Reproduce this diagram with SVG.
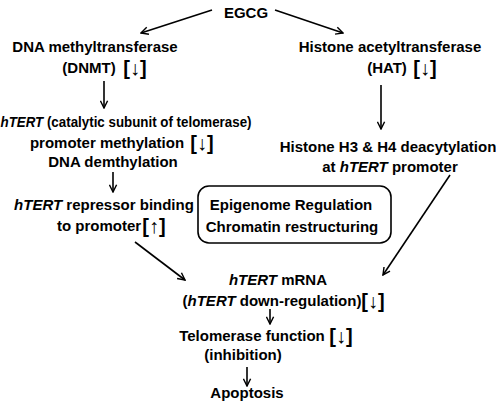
<svg xmlns="http://www.w3.org/2000/svg" width="496" height="403" viewBox="0 0 496 403">
<defs>
<marker id="ah" viewBox="0 0 10 10" refX="9" refY="5" markerWidth="9" markerHeight="9" markerUnits="userSpaceOnUse" orient="auto">
<path d="M1,1 L9,5 L1,9" fill="none" stroke="#000" stroke-width="1.6"/>
</marker>
<style>
text{font-family:"Liberation Sans","DejaVu Sans",Arial,sans-serif;font-weight:bold;font-size:15px;fill:#000;text-anchor:middle}
.i{font-style:italic}
.b{font-weight:bold;font-size:20px}
.a{font-weight:normal}
.c{stroke:#000;stroke-width:1.6;fill:none;marker-end:url(#ah)}
</style>
</defs>
<rect width="496" height="403" fill="#fff"/>
<g id="egcg"><text x="246" y="18">EGCG</text></g>
<g id="dnmt"><text x="95" y="52">DNA methyltransferase</text><text x="89" y="73">(DNMT)</text><text x="135" y="75" class="b">[<tspan class="a">↓</tspan>]</text></g>
<g id="hat"><text x="390" y="52">Histone acetyltransferase</text><text x="387" y="73">(HAT)</text><text x="425" y="75" class="b">[<tspan class="a">↓</tspan>]</text></g>
<g id="htert-meth"><text transform="translate(126,127) scale(0.89,1)"><tspan class="i">hTERT</tspan> (catalytic subunit of telomerase)</text><text x="107" y="148">promoter methylation</text><text x="202" y="150" class="b">[<tspan class="a">↓</tspan>]</text><text x="113" y="167">DNA demthylation</text></g>
<g id="repressor"><text x="104" y="210"><tspan class="i">hTERT</tspan> repressor binding</text><text x="99" y="231">to promoter</text><text x="154" y="233" class="b">[<tspan class="a">↑</tspan>]</text></g>
<g id="epigenome"><rect x="198" y="186" width="193" height="57" rx="11" fill="none" stroke="#000" stroke-width="1.6"/><text x="291" y="210">Epigenome Regulation</text><text x="292" y="232">Chromatin restructuring</text></g>
<g id="deacetyl"><text x="388" y="152">Histone H3 &amp; H4 deacytylation</text><text x="390" y="172">at <tspan class="i">hTERT</tspan> promoter</text></g>
<g id="mrna"><text x="278" y="285"><tspan class="i">hTERT</tspan> mRNA</text><text x="272" y="306">(<tspan class="i">hTERT</tspan> down-regulation)</text><text x="373" y="308" class="b">[<tspan class="a">↓</tspan>]</text></g>
<g id="telomerase"><text x="252" y="341">Telomerase function</text><text x="341" y="343" class="b">[<tspan class="a">↓</tspan>]</text><text x="243" y="360">(inhibition)</text></g>
<g id="apoptosis"><text x="247" y="398">Apoptosis</text></g>
<g id="connectors">
<path class="c" d="M212,10 L141,33"/>
<path class="c" d="M275,10 L343,33"/>
<path class="c" d="M104,81 L104,108"/>
<path class="c" d="M381,85 L381,129"/>
<path class="c" d="M113,172 L113,192"/>
<path class="c" d="M135,242 L185,280"/>
<path class="c" d="M450,175 L383,275"/>
<path class="c" d="M270,309 L270,324"/>
<path class="c" d="M247,367 L247,386"/>
</g>
</svg>
